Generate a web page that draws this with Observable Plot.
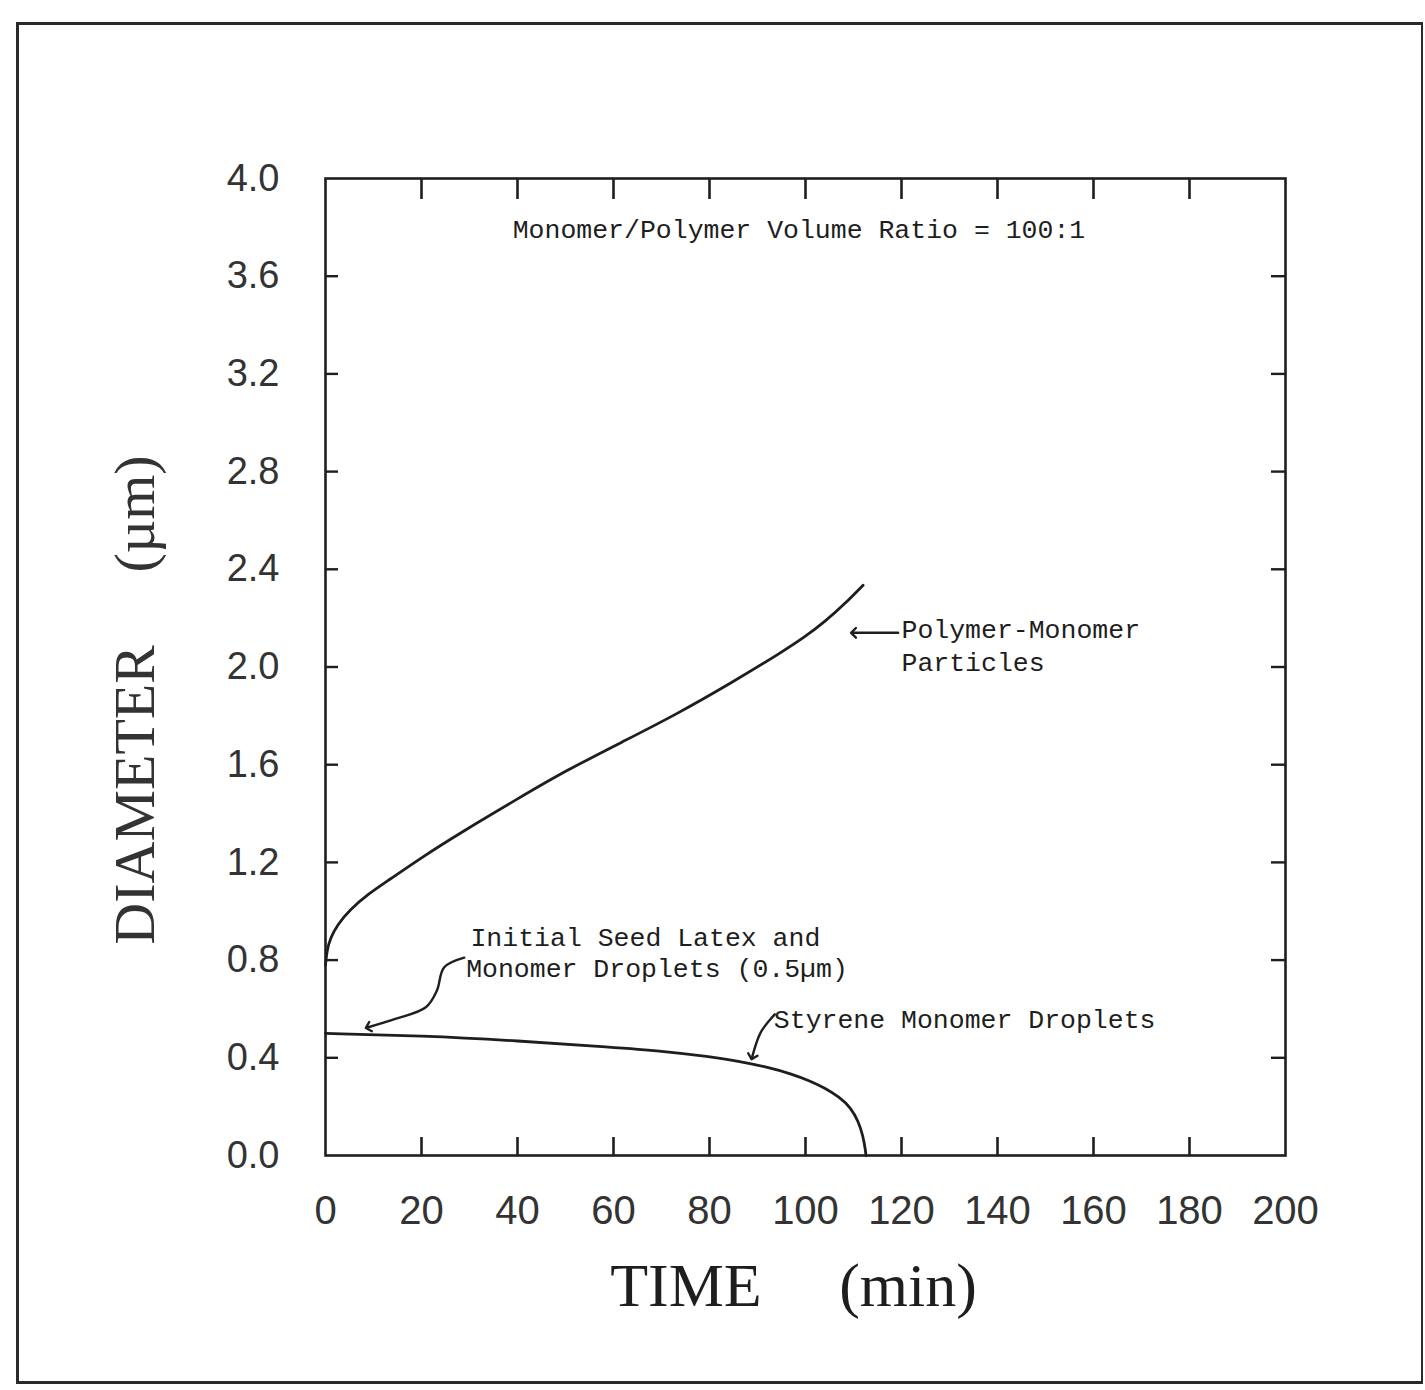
<!DOCTYPE html>
<html>
<head>
<meta charset="utf-8">
<script src="https://cdn.jsdelivr.net/npm/d3@7"></script>
<script src="https://cdn.jsdelivr.net/npm/@observablehq/plot@0.6"></script>
<style>
  html, body { margin: 0; padding: 0; background: #fff; }
  #wrap { position: relative; width: 1425px; height: 1390px; overflow: hidden; }
  #page { position: absolute; left: 16px; top: 22px; width: 1407px; height: 1362px; box-sizing: border-box;
          border: 3px solid #2a2a2a; border-right-width: 2px; pointer-events: none; }
  #chart { position: absolute; left: 0; top: 0; }
</style>
</head>
<body>
<div id="wrap"><div id="chart"></div><div id="page"></div></div>
<script>
// ---- data ----
const xTicks = [0, 20, 40, 60, 80, 100, 120, 140, 160, 180, 200];
const yTicks = [0.0, 0.4, 0.8, 1.2, 1.6, 2.0, 2.4, 2.8, 3.2, 3.6, 4.0];

// Polymer-Monomer particles
const timePolymer = [0, 0.3, 1, 2.5, 5, 9, 13, 20, 28, 40, 50, 62, 73, 85, 95, 100, 104, 108, 112];
const diamPolymer = [0.78, 0.84, 0.89, 0.945, 1.005, 1.072, 1.125, 1.22, 1.32, 1.46, 1.575, 1.695, 1.805, 1.94, 2.06, 2.125, 2.185, 2.255, 2.335];

// Styrene monomer droplets
const timeStyrene = [0, 20, 40, 60, 70, 80, 86, 92, 97, 101, 104, 107, 109.5, 111, 112, 112.5, 112.6];
const diamStyrene = [0.50, 0.49, 0.47, 0.443, 0.428, 0.405, 0.387, 0.362, 0.335, 0.305, 0.277, 0.24, 0.195, 0.14, 0.08, 0.02, 0];

// annotation texts and their anchor positions (data units)
const noteText = ["Monomer/Polymer Volume Ratio = 100:1", "Polymer-Monomer", "Particles",
                  "Initial Seed Latex and", "Monomer Droplets (0.5\u00b5m)", "Styrene Monomer Droplets"];
const noteTime = [39, 120, 120, 30.2, 29.3, 93.4];
const noteDiam = [3.79, 2.155, 2.02, 0.894, 0.767, 0.557];

// leader arrows
const seedArrowTime = [28.9, 24.7, 23.2, 20.9, 14.7, 8.9];
const seedArrowDiam = [0.81, 0.77, 0.675, 0.607, 0.56, 0.525];
const styArrowTime = [93.6, 90.7, 88.9];
const styArrowDiam = [0.578, 0.505, 0.404];
const partArrowTime = [119.3, 110.0];
const partArrowDiam = [2.14, 2.14];

const xTitle = "TIME\u00a0\u00a0\u00a0\u00a0\u00a0(min)";
const yTitle = "DIAMETER\u00a0\u00a0\u00a0\u00a0\u00a0(\u00b5m)";

// ---- tables ----
const polymer = timePolymer.map((t, i) => ({t, d: diamPolymer[i]}));
const styrene = timeStyrene.map((t, i) => ({t, d: diamStyrene[i]}));
const notes = noteText.map((s, i) => ({s, t: noteTime[i], d: noteDiam[i]}));
const seedArrow = seedArrowTime.map((t, i) => ({t, d: seedArrowDiam[i]}));
const styArrow = styArrowTime.map((t, i) => ({t, d: styArrowDiam[i]}));
const partArrow = partArrowTime.map((t, i) => ({t, d: partArrowDiam[i]}));

const ink = "#1e1e1e";
const mono = "'Liberation Mono', 'DejaVu Sans Mono', monospace";
const serif = "'Liberation Serif', 'DejaVu Serif', serif";

const chart = Plot.plot({
  width: 1425,
  height: 1390,
  marginLeft: 325,
  marginRight: 140,
  marginTop: 178,
  marginBottom: 235,
  style: {background: "transparent", color: ink, overflow: "visible"},
  x: {domain: [0, 200]},
  y: {domain: [0, 4]},
  marks: [
    Plot.frame({stroke: ink, strokeWidth: 2.6}),
    // inward ticks
    Plot.axisY(yTicks.slice(1, -1), {anchor: "left", tickSize: -13, strokeWidth: 2.4, tickFormat: () => "", label: null}),
    Plot.axisY(yTicks.slice(1, -1), {anchor: "right", tickSize: -15, strokeWidth: 2.4, tickFormat: () => "", label: null}),
    Plot.axisX(xTicks.slice(1, -1), {anchor: "bottom", tickSize: -18, strokeWidth: 2.6, tickFormat: () => "", label: null}),
    Plot.axisX(xTicks.slice(1, -1), {anchor: "top", tickSize: -20, strokeWidth: 2.6, tickFormat: () => "", label: null}),
    // tick labels
    Plot.axisY(yTicks, {anchor: "left", tickSize: 0, tickPadding: 46, tickFormat: d3.format(".1f"),
      fontSize: 38, fontFamily: "'Liberation Sans', Arial, sans-serif", fill: "#333", label: null}),
    Plot.axisX(xTicks, {anchor: "bottom", tickSize: 0, tickPadding: 40, tickFormat: d => String(d),
      fontSize: 40, fontFamily: "'Liberation Sans', Arial, sans-serif", fill: "#333", label: null}),
    // axis titles
    Plot.text([xTitle], {frameAnchor: "bottom", textAnchor: "middle", text: d => d, dx: -12, dy: 150,
      fontSize: 62, fontFamily: serif, fill: ink}),
    Plot.text([yTitle], {frameAnchor: "left", textAnchor: "middle", text: d => d, rotate: -90, dx: -190, dy: 33,
      fontSize: 58, fontFamily: serif, fill: "#333"}),
    // curves
    Plot.line(polymer, {x: "t", y: "d", curve: "basis", stroke: ink, strokeWidth: 2.8}),
    Plot.line(styrene, {x: "t", y: "d", curve: "basis", stroke: ink, strokeWidth: 2.8}),
    // leader arrows
    Plot.line(seedArrow, {x: "t", y: "d", curve: "catmull-rom", stroke: ink, strokeWidth: 2.4, markerEnd: "arrow"}),
    Plot.line(styArrow, {x: "t", y: "d", curve: "catmull-rom", stroke: ink, strokeWidth: 2.4, markerEnd: "arrow"}),
    Plot.line(partArrow, {x: "t", y: "d", stroke: ink, strokeWidth: 2.4, markerEnd: "arrow"}),
    // annotations
    Plot.text(notes, {x: "t", y: "d", text: "s", textAnchor: "start", fontSize: 26.5, fontFamily: mono, fill: ink})
  ]
});
document.getElementById("chart").appendChild(chart);
</script>
</body>
</html>
